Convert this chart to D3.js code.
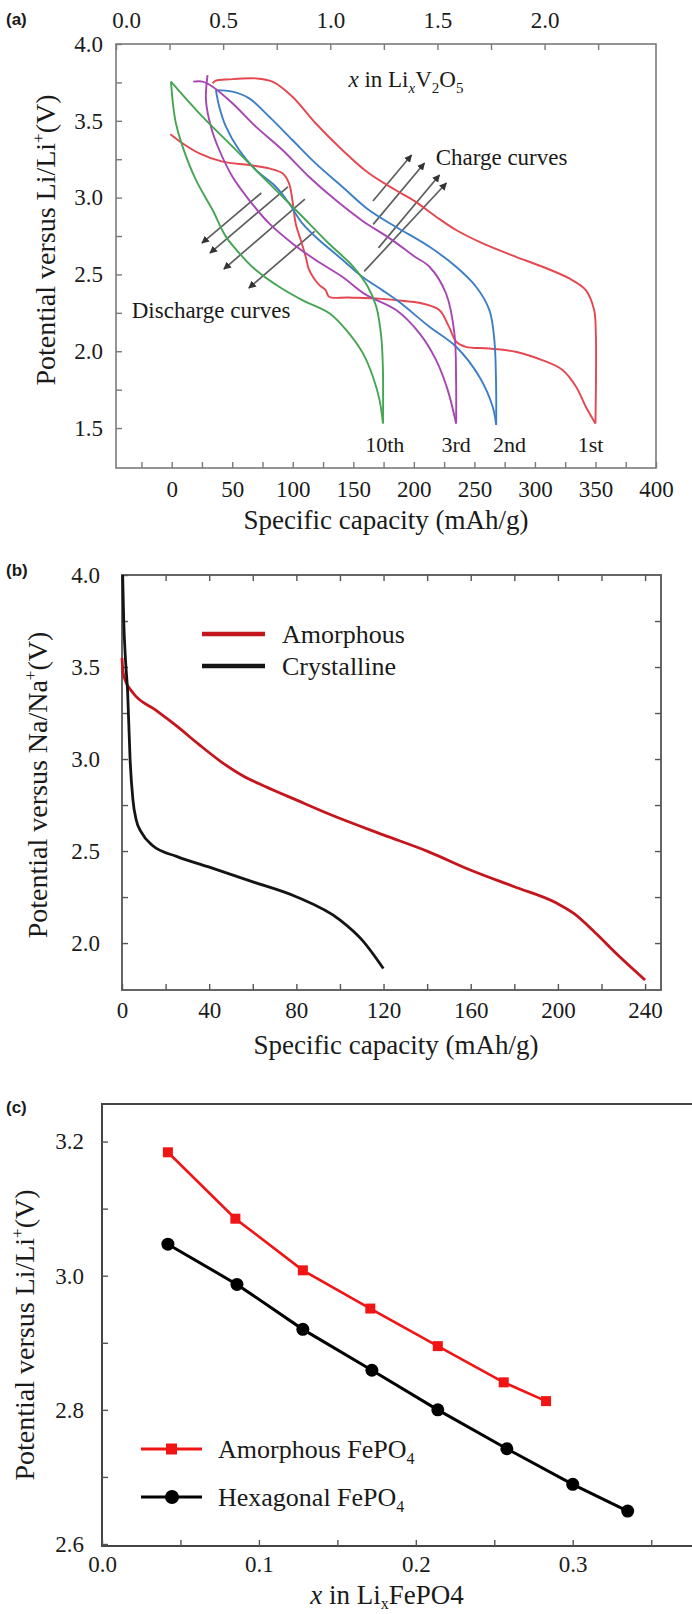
<!DOCTYPE html>
<html>
<head>
<meta charset="utf-8">
<script src="https://cdnjs.cloudflare.com/ajax/libs/d3/7.8.5/d3.min.js"></script>
<style>
  body { margin: 0; background: #fff; }
  svg text { font-family: "Liberation Serif", "Times New Roman", serif; fill: #1a1a1a; }
  .tag { font-family: "Liberation Sans", Arial, sans-serif !important; font-weight: bold; }
</style>
</head>
<body>
<div id="chart"></div>
<script>
// ---------- (a) Li/V2O5 cycles : [capacity mAh/g, potential V] ----------
const cycleNames = ["1st", "2nd", "3rd", "10th"];
const cycleLabelCap = [346, 279, 235, 176];

const cycle1Discharge = [[-1.1,3.412],[9,3.353],[22.8,3.288],[42,3.234],[64,3.212],[80.5,3.19],[91.5,3.158],[96.9,3.093],[99.7,2.984],[102.4,2.832],[106.6,2.724],[110.7,2.615],[113,2.54],[117,2.48],[122,2.43],[127,2.4],[130,2.355],[146,2.35],[168,2.344],[185,2.333],[207,2.311],[221,2.268],[229,2.16],[235,2.062],[243,2.029],[262,2.018],[284,1.997],[306,1.942],[323,1.877],[334,1.769],[342,1.639],[350,1.53]];
const cycle1Charge = [[350,1.53],[350.5,1.9],[350.3,2.116],[348.9,2.268],[342,2.398],[328.3,2.474],[306.3,2.55],[284.3,2.615],[256.9,2.702],[234.9,2.789],[218.4,2.876],[201.3,2.974],[184.8,3.05],[162.9,3.158],[140.9,3.31],[118.9,3.484],[99.7,3.657],[83.2,3.755],[69.5,3.776],[47.5,3.77],[36.5,3.761],[33.8,3.744]];
const cycle2Discharge = [[36.5,3.7],[39.3,3.592],[44.8,3.462],[55.7,3.31],[69.5,3.18],[86,3.071],[96.9,2.963],[107.9,2.832],[121.7,2.724],[138.1,2.615],[157.4,2.485],[173.9,2.398],[188,2.32],[212.9,2.159],[234.9,2.029],[254.1,1.834],[265.1,1.639],[268,1.52]];
const cycle2Charge = [[36.5,3.7],[50.2,3.69],[64,3.646],[80.5,3.527],[99.7,3.375],[118.9,3.223],[140.9,3.071],[162.9,2.919],[185,2.81],[212.9,2.68],[234.9,2.55],[251.4,2.42],[262.4,2.268],[266.5,2.073],[267.9,1.79],[268,1.52]];
const cycle3Discharge = [[29.6,3.798],[28.3,3.635],[32.4,3.462],[39.3,3.31],[50.2,3.136],[64,2.984],[80.5,2.832],[99.7,2.702],[118.9,2.594],[140.9,2.485],[160,2.37],[185.4,2.268],[204.7,2.116],[218.4,1.942],[228,1.747],[234.9,1.53]];
const cycle3Charge = [[17.8,3.755],[25.5,3.755],[33.8,3.722],[50.2,3.614],[69.5,3.462],[91.5,3.31],[113.4,3.136],[135.4,2.984],[157.4,2.85],[181,2.73],[200,2.62],[212.9,2.55],[226.6,2.376],[233.5,2.116],[234.9,1.8],[234.9,1.53]];
const cycle10Discharge = [[-0.6,3.755],[1.3,3.592],[3.5,3.483],[9,3.332],[20,3.115],[33.8,2.919],[44.8,2.746],[58.5,2.615],[69.5,2.529],[88.7,2.42],[107.9,2.333],[130.5,2.246],[144.2,2.138],[158,1.986],[166.2,1.834],[171.7,1.682],[174.5,1.53]];
const cycle10Charge = [[-0.6,3.755],[22.8,3.549],[50.2,3.332],[77.7,3.115],[105.2,2.898],[130,2.7],[150,2.55],[162,2.42],[169,2.29],[173,2.1],[174.4,1.9],[174.5,1.53]];

// arrows [tailCap, tailV, headCap, headV]
const dischargeArrows = [[74,3.03,25,2.704],[96,3.07,31.6,2.639],[110,2.99,43.1,2.535],[118,2.78,63.7,2.411]];
const chargeArrows = [[166.2,2.978,198.1,3.277],[166.4,2.826,208.8,3.225],[170.8,2.673,221.2,3.147],[159,2.52,226.9,3.095]];

// ---------- (b) Na cells ----------
const legendB = ["Amorphous", "Crystalline"];
const amorphousB = [[0,3.55],[0.5,3.47],[1.4,3.431],[5.1,3.359],[15.2,3.268],[25.3,3.177],[35.4,3.078],[45.5,2.985],[55.6,2.908],[65.7,2.851],[79.9,2.778],[96.1,2.696],[119.9,2.588],[140.5,2.497],[159.8,2.397],[180,2.306],[199.6,2.216],[207.3,2.161],[217.4,2.053],[227.5,1.935],[240,1.799]];
const crystallineB = [[0.3,4.0],[0.8,3.75],[1.6,3.54],[2.6,3.36],[3.7,3.0],[5,2.78],[6.5,2.67],[9,2.6],[14,2.53],[25.3,2.47],[39.4,2.415],[59.7,2.334],[79.9,2.252],[100.1,2.125],[110.2,2.016],[119.9,1.862]];

// ---------- (c) FePO4 ----------
const amorphousX = [0.042,0.085,0.128,0.171,0.214,0.256,0.283];
const amorphousV = [3.184,3.085,3.008,2.951,2.895,2.841,2.813];
const hexagonalX = [0.042,0.086,0.128,0.172,0.214,0.258,0.300,0.335];
const hexagonalV = [3.047,2.987,2.920,2.859,2.800,2.742,2.689,2.649];

const svg = d3.select("#chart").append("svg")
    .attr("width", 692)
    .attr("height", 1614);

const halfFmt = d => Math.abs(d * 2 - Math.round(d * 2)) < 1e-6 ? d3.format(".1f")(d) : "";
const tickFont = 23;

function styleAxis(g, tickColor) {
  g.select(".domain").remove();
  g.selectAll(".tick line").attr("stroke", tickColor).attr("stroke-width", 1.4);
  g.selectAll("text").style("font-size", tickFont + "px").attr("fill", "#1a1a1a")
      .style("font-family", "'Liberation Serif', serif");
}

// =================== panel (a) ===================
const ax = d3.scaleLinear().domain([-46, 400]).range([116, 656]);
const axTop = d3.scaleLinear().domain([0, 2.52]).range([116, 656]);
const ay = d3.scaleLinear().domain([1.24, 4.0]).range([468, 44]);
const ga = svg.append("g");

ga.append("rect").attr("x", 116).attr("y", 44).attr("width", 540).attr("height", 424)
    .attr("fill", "none").attr("stroke", "#7a7a7a").attr("stroke-width", 1.6);

ga.append("g").attr("transform", "translate(116,0)")
    .call(d3.axisLeft(ay).tickValues(d3.range(1.5, 4.01, 0.25)).tickFormat(halfFmt)
      .tickSizeInner(-6).tickSizeOuter(0).tickPadding(13))
    .call(g => styleAxis(g, "#7a7a7a"));

ga.append("g").attr("transform", "translate(0,468)")
    .call(d3.axisBottom(ax).tickValues(d3.range(-25, 401, 25))
      .tickFormat(d => d >= 0 && d % 50 === 0 ? d : "")
      .tickSizeInner(-6).tickSizeOuter(0).tickPadding(13))
    .call(g => styleAxis(g, "#7a7a7a"));

ga.append("g").attr("transform", "translate(0,44)")
    .call(d3.axisTop(axTop).tickValues(d3.range(0, 2.26, 0.25)).tickFormat(halfFmt)
      .tickSizeInner(-6).tickSizeOuter(0).tickPadding(16))
    .call(g => styleAxis(g, "#7a7a7a"))
    .call(g => g.selectAll("text").filter(d => d === 0).attr("dx", 10));

const lineA = d3.line().x(d => ax(d[0])).y(d => ay(d[1])).curve(d3.curveCatmullRom.alpha(0.5));

// arrows (drawn under curves)
const defs = svg.append("defs");
defs.append("marker").attr("id", "ahead").attr("viewBox", "0 0 10 10")
    .attr("refX", 9).attr("refY", 5).attr("markerWidth", 4.5).attr("markerHeight", 4.5)
    .attr("orient", "auto")
  .append("path").attr("d", "M0,0 L10,5 L0,10 z").attr("fill", "#333");

ga.selectAll(".arr").data(dischargeArrows.concat(chargeArrows)).enter().append("line")
    .attr("x1", d => ax(d[0])).attr("y1", d => ay(d[1]))
    .attr("x2", d => ax(d[2])).attr("y2", d => ay(d[3]))
    .attr("stroke", "#5e5e5e").attr("stroke-width", 1.7)
    .attr("marker-end", "url(#ahead)");

const curvesA = [
  [cycle1Discharge, "#e4474f"], [cycle1Charge, "#e4474f"],
  [cycle2Discharge, "#3d7ec6"], [cycle2Charge, "#3d7ec6"],
  [cycle3Discharge, "#a645b3"], [cycle3Charge, "#a645b3"],
  [cycle10Discharge, "#45a552"], [cycle10Charge, "#45a552"]
];
ga.selectAll(".cv").data(curvesA).enter().append("path")
    .attr("d", d => lineA(d[0]))
    .attr("fill", "none").attr("stroke", d => d[1]).attr("stroke-width", 1.9);

ga.selectAll(".cyc").data(cycleNames).enter().append("text")
    .attr("x", (d, i) => ax(cycleLabelCap[i])).attr("y", ay(1.345))
    .attr("text-anchor", "middle").style("font-size", "22px").text(d => d);

const tx = ga.append("text").attr("x", ax(146)).attr("y", ay(3.72)).style("font-size", "23px");
tx.append("tspan").style("font-style", "italic").text("x");
tx.append("tspan").text(" in Li");
tx.append("tspan").attr("dy", 6).style("font-size", "15px").style("font-style", "italic").text("x");
tx.append("tspan").attr("dy", -6).text("V");
tx.append("tspan").attr("dy", 6).style("font-size", "15px").text("2");
tx.append("tspan").attr("dy", -6).text("O");
tx.append("tspan").attr("dy", 6).style("font-size", "15px").text("5");

ga.append("text").attr("x", ax(218)).attr("y", ay(3.215)).style("font-size", "23px").text("Charge curves");
ga.append("text").attr("x", ax(-33)).attr("y", ay(2.215)).style("font-size", "23px").text("Discharge curves");

ga.append("text").attr("x", 386).attr("y", 529).attr("text-anchor", "middle")
    .style("font-size", "27px").text("Specific capacity (mAh/g)");

function yTitle(g, x, y, ion) {
  const t = g.append("text").attr("transform", `translate(${x},${y}) rotate(-90)`)
      .attr("text-anchor", "middle").style("font-size", "28px");
  t.append("tspan").text(`Potential versus ${ion}/${ion}`);
  t.append("tspan").attr("dy", -11).style("font-size", "17px").text("+");
  t.append("tspan").attr("dy", 11).text("(V)");
}
yTitle(ga, 55, 240, "Li");
ga.append("text").attr("class", "tag").attr("x", 6).attr("y", 25).style("font-size", "17px").text("(a)");

// =================== panel (b) ===================
const bx = d3.scaleLinear().domain([0, 247.3]).range([122, 661]);
const by = d3.scaleLinear().domain([1.745, 4.0]).range([990, 575]);
const gb = svg.append("g");

gb.append("rect").attr("x", 122).attr("y", 575).attr("width", 539).attr("height", 415)
    .attr("fill", "none").attr("stroke", "#555").attr("stroke-width", 1.8);

gb.append("g").attr("transform", "translate(122,0)")
    .call(d3.axisLeft(by).tickValues(d3.range(2.0, 4.01, 0.25)).tickFormat(halfFmt)
      .tickSizeInner(-6).tickSizeOuter(0).tickPadding(22))
    .call(g => styleAxis(g, "#555"));
gb.append("g").attr("transform", "translate(661,0)")
    .call(d3.axisRight(by).tickValues(d3.range(2.0, 4.0, 0.25)).tickFormat("")
      .tickSizeInner(-6).tickSizeOuter(0))
    .call(g => styleAxis(g, "#555"));
gb.append("g").attr("transform", "translate(0,990)")
    .call(d3.axisBottom(bx).tickValues(d3.range(0, 241, 20))
      .tickFormat(d => d % 40 === 0 ? d : "")
      .tickSizeInner(-6).tickSizeOuter(0).tickPadding(12))
    .call(g => styleAxis(g, "#555"));
gb.append("g").attr("transform", "translate(0,575)")
    .call(d3.axisTop(bx).tickValues(d3.range(20, 241, 20)).tickFormat("")
      .tickSizeInner(-6).tickSizeOuter(0))
    .call(g => styleAxis(g, "#555"));

const lineB = d3.line().x(d => bx(d[0])).y(d => by(d[1])).curve(d3.curveMonotoneX);
const seriesB = [[amorphousB, "#c4161c"], [crystallineB, "#141414"]];
gb.selectAll(".sb").data(seriesB).enter().append("path")
    .attr("d", d => lineB(d[0]))
    .attr("fill", "none").attr("stroke", d => d[1]).attr("stroke-width", 2.8);

legendB.forEach((name, i) => {
  const y = 634 + i * 32;
  gb.append("line").attr("x1", 202).attr("x2", 265).attr("y1", y).attr("y2", y)
      .attr("stroke", seriesB[i][1]).attr("stroke-width", 4.5);
  gb.append("text").attr("x", 282).attr("y", y + 9).style("font-size", "26px").text(name);
});

gb.append("text").attr("x", 396).attr("y", 1054).attr("text-anchor", "middle")
    .style("font-size", "27px").text("Specific capacity (mAh/g)");
yTitle(gb, 47, 785, "Na");
gb.append("text").attr("class", "tag").attr("x", 6).attr("y", 576).style("font-size", "17px").text("(b)");

// =================== panel (c) ===================
const cx = d3.scaleLinear().domain([0, 0.376]).range([102, 692]);
const cy = d3.scaleLinear().domain([2.597, 3.256]).range([1546, 1104]);
const gc = svg.append("g");

gc.append("path").attr("d", "M692,1104 H102 V1546 H692")
    .attr("fill", "none").attr("stroke", "#444").attr("stroke-width", 2);

gc.append("g").attr("transform", "translate(102,0)")
    .call(d3.axisLeft(cy).tickValues(d3.range(26, 33).map(d => d / 10))
      .tickFormat(d => Math.round(d * 10) % 2 === 0 ? d3.format(".1f")(d) : "")
      .tickSizeInner(-6).tickSizeOuter(0).tickPadding(18))
    .call(g => styleAxis(g, "#555"));
gc.append("g").attr("transform", "translate(0,1546)")
    .call(d3.axisBottom(cx).tickValues(d3.range(0, 8).map(d => d * 0.05))
      .tickFormat(d => Math.abs(d * 10 - Math.round(d * 10)) < 1e-6 ? d3.format(".1f")(d) : "")
      .tickSizeInner(-6).tickSizeOuter(0).tickPadding(10))
    .call(g => styleAxis(g, "#555"));

const amorphousC = amorphousX.map((x, i) => [x, amorphousV[i]]);
const hexagonalC = hexagonalX.map((x, i) => [x, hexagonalV[i]]);
const lineC = d3.line().x(d => cx(d[0])).y(d => cy(d[1]));

gc.append("path").attr("d", lineC(hexagonalC)).attr("fill", "none")
    .attr("stroke", "#000").attr("stroke-width", 3);
gc.selectAll(".hc").data(hexagonalC).enter().append("circle")
    .attr("cx", d => cx(d[0])).attr("cy", d => cy(d[1])).attr("r", 6.5).attr("fill", "#000");
gc.append("path").attr("d", lineC(amorphousC)).attr("fill", "none")
    .attr("stroke", "#f01414").attr("stroke-width", 2.6);
gc.selectAll(".ac").data(amorphousC).enter().append("rect")
    .attr("x", d => cx(d[0]) - 5).attr("y", d => cy(d[1]) - 5)
    .attr("width", 10).attr("height", 10).attr("fill", "#f01414");

// legend (c)
const legC = [["Amorphous FePO", "#f01414", "square"], ["Hexagonal FePO", "#000", "circle"]];
legC.forEach((d, i) => {
  const y = 1449 + i * 48;
  gc.append("line").attr("x1", 141).attr("x2", 202).attr("y1", y).attr("y2", y)
      .attr("stroke", d[1]).attr("stroke-width", 3);
  if (d[2] === "square") {
    gc.append("rect").attr("x", 166).attr("y", y - 5.5).attr("width", 11).attr("height", 11).attr("fill", d[1]);
  } else {
    gc.append("circle").attr("cx", 172).attr("cy", y).attr("r", 7).attr("fill", d[1]);
  }
  const t = gc.append("text").attr("x", 218).attr("y", y + 9).style("font-size", "26px");
  t.append("tspan").text(d[0]);
  t.append("tspan").attr("dy", 6).style("font-size", "16px").text("4");
});

const xc = gc.append("text").attr("x", 387).attr("y", 1604).attr("text-anchor", "middle").style("font-size", "27px");
xc.append("tspan").style("font-style", "italic").text("x");
xc.append("tspan").text(" in Li");
xc.append("tspan").attr("dy", 5).style("font-size", "16px").text("x");
xc.append("tspan").attr("dy", -5).text("FePO4");

yTitle(gc, 34, 1335, "Li");
gc.append("text").attr("class", "tag").attr("x", 6).attr("y", 1113).style("font-size", "17px").text("(c)");
</script>
</body>
</html>
